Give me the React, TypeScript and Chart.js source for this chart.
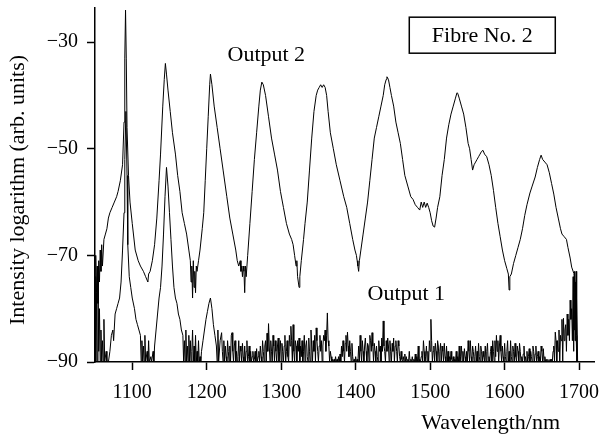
import React, { useEffect, useRef } from "react";
import { Chart, registerables } from "chart.js";

Chart.register(...registerables);

const xTickValues = [1100, 1200, 1300, 1400, 1500, 1600, 1700];
const yTickValues = [-90, -70, -50, -30];

// Output 2 spectrum: [wavelength nm, intensity log]
const output2: [number, number][] = [
  [1050, -74], [1051, -70], [1052, -77], [1053, -72], [1054, -79], [1055, -71], [1056, -75],
  [1057, -69], [1058, -73], [1059, -68], [1060, -72], [1062, -67], [1064, -66], [1066, -65],
  [1068, -63], [1070, -62], [1073, -61], [1076, -60], [1079, -59], [1081, -58], [1084, -56],
  [1087, -53], [1089, -45], [1090, -33], [1091, -24], [1092, -33], [1093, -46], [1095, -55],
  [1097, -60], [1100, -64], [1104, -69], [1108, -71], [1111, -72], [1115, -73], [1118, -74],
  [1121, -75], [1122, -73.5], [1124, -73], [1127, -71], [1130, -68], [1133, -63], [1136, -56],
  [1138, -51], [1141, -42], [1143, -37], [1144.5, -34], [1146, -36], [1148, -39], [1151, -43],
  [1154, -47], [1158, -51], [1161, -55], [1164, -58], [1167, -62], [1170, -64], [1173, -66],
  [1176, -69], [1178, -71], [1179, -75], [1180, -72], [1181, -78], [1182, -71], [1183, -76],
  [1184, -73], [1185, -77], [1186, -72], [1187, -73], [1189, -71], [1191, -69], [1194, -65],
  [1196, -62], [1198, -56], [1200, -50], [1202, -44], [1204, -38], [1205, -36], [1207, -38],
  [1210, -42], [1214, -46], [1218, -50], [1222, -54], [1227, -59], [1231, -63], [1235, -66],
  [1239, -69], [1241, -71], [1243, -72], [1245, -71], [1246, -73], [1247, -72], [1248, -74],
  [1249, -72], [1250, -73], [1251, -77], [1252, -72], [1253, -74], [1255, -70], [1258, -64],
  [1261, -58], [1264, -52], [1267, -47], [1270, -42], [1272, -39], [1274, -37.5], [1276, -38],
  [1279, -40], [1283, -44], [1287, -48], [1291, -51], [1295, -54], [1299, -58], [1303, -61],
  [1307, -64], [1311, -66], [1314, -67], [1316, -68], [1318, -70], [1320, -72], [1321, -71],
  [1322, -74], [1323, -75], [1324, -76], [1325, -74], [1327, -71], [1330, -67], [1332, -64],
  [1335, -60], [1338, -54], [1341, -48], [1344, -43], [1347, -40], [1349, -39], [1351, -38.5],
  [1353, -38], [1355, -38.5], [1357, -38], [1359, -38.5], [1361, -40], [1363, -43], [1366, -47],
  [1370, -50], [1374, -53], [1379, -56], [1384, -59], [1388, -61], [1392, -64], [1396, -67],
  [1399, -69], [1401, -70], [1402, -71], [1403, -72], [1404, -73], [1405, -71], [1407, -69],
  [1410, -66], [1413, -63], [1416, -60], [1419, -56], [1422, -52], [1425, -48], [1428, -46],
  [1431, -44], [1434, -42], [1437, -40], [1439, -38], [1441, -37], [1442, -36.5], [1444, -37],
  [1446, -38.5], [1448, -40], [1451, -42], [1454, -45], [1457, -47], [1460, -49], [1463, -52],
  [1466, -55], [1470, -57], [1474, -59], [1477, -59.5], [1480, -60.5], [1483, -61], [1486, -61.5],
  [1488, -60], [1490, -61], [1492, -60], [1494, -61], [1496, -60.2], [1498, -61], [1500, -62],
  [1502, -63.5], [1504, -64.5], [1506, -64.7], [1508, -63], [1510, -61], [1513, -59], [1516, -55],
  [1519, -52], [1522, -48], [1525, -45.5], [1528, -43.5], [1531, -42], [1534, -40.5], [1536, -39.5],
  [1537, -39.6], [1539, -40.5], [1542, -42], [1545, -43.5], [1548, -46], [1551, -49], [1553, -50],
  [1555, -52], [1557, -54], [1559, -53], [1561, -52.5], [1563, -52], [1565, -51.5], [1567, -51],
  [1569, -50.5], [1571, -50.3], [1573, -51], [1576, -51.5], [1579, -53], [1582, -55], [1585, -57.8],
  [1588, -61], [1591, -64], [1594, -66.5], [1597, -69], [1600, -71], [1603, -72.5], [1605, -73.5],
  [1606, -76.5], [1607, -74], [1609, -73.5], [1612, -71.5], [1615, -70], [1618, -68.5], [1621, -67],
  [1624, -65], [1627, -62.5], [1630, -60.5], [1634, -58.3], [1637, -57], [1641, -55.3], [1644, -53.5],
  [1647, -52], [1649, -51.2], [1651, -52], [1654, -52.5], [1657, -53], [1660, -54.5], [1663, -56.5],
  [1666, -58.5], [1669, -61], [1672, -63], [1675, -65], [1677, -66], [1680, -66.5], [1683, -67],
  [1685, -68.5], [1688, -70.5], [1690, -72.2], [1693, -73.4], [1695, -76], [1696, -85], [1697, -90],
];

// Output 1 spectrum, peak region: [wavelength nm, intensity log]
const output1Peaks: [number, number][] = [
  [1050, -74], [1051, -90], [1052, -77], [1053, -90], [1054, -72], [1055, -88], [1056, -80],
  [1057, -90], [1058, -84], [1059, -90], [1060, -86], [1061, -90], [1062, -82], [1063, -90],
  [1065, -88], [1066, -90], [1068, -90], [1070, -88], [1072, -85], [1074, -84], [1075, -86],
  [1077, -81], [1079, -80], [1081, -79], [1083, -78], [1085, -75], [1087, -69], [1089, -62],
  [1090, -52], [1091.5, -43], [1093, -55], [1094, -68], [1096, -74], [1098, -76], [1100, -78],
  [1103, -80], [1105, -82], [1107, -83], [1109, -84], [1111, -85], [1112, -90], [1113, -86],
  [1114, -90], [1115, -87], [1116, -90], [1117, -85], [1118, -90], [1120, -88], [1121, -90],
  [1122, -86], [1123, -90], [1125, -89], [1126, -90], [1128, -88], [1129, -90], [1130, -87],
  [1132, -84], [1134, -81], [1136, -78], [1138, -76], [1140, -72], [1142, -66], [1144, -59],
  [1146, -53.5], [1148, -57], [1150, -62], [1152, -67], [1154, -72], [1156, -76], [1158, -78],
  [1160, -79], [1162, -81], [1164, -82], [1166, -84], [1168, -85], [1169, -90], [1170, -86],
  [1171, -90], [1172, -84], [1173, -90], [1174, -87], [1175, -90], [1176, -85], [1177, -90],
  [1178, -86], [1179, -90], [1180, -88], [1181, -84], [1182, -90], [1183, -87], [1184, -90],
  [1185, -85], [1186, -90], [1187, -88], [1188, -90], [1189, -86], [1190, -90], [1191, -89],
  [1192, -90], [1193, -88], [1195, -86], [1197, -84], [1199, -82], [1201, -80.5], [1203, -79],
  [1205, -78], [1207, -80], [1209, -83], [1211, -85], [1213, -87], [1214, -90], [1215, -84],
  [1216, -90], [1218, -86],
];

// Output 1 noise floor, every 1 nm from 1220 nm to 1689 nm
const output1NoiseStart = 1220;
const output1NoiseStep = 1;
const output1Noise = [
  -84.5, -88, -90, -86, -90, -87, -89, -90, -86, -88,
  -90, -87, -90, -85, -84.5, -88, -90, -87, -86, -90,
  -88, -90, -89, -86, -90, -87, -88, -90, -86.5, -89,
  -90, -87, -90, -88, -86, -90, -89, -87, -90, -88,
  -90, -89, -88, -90, -89.5, -88, -90, -87.5, -90, -89,
  -88, -90, -87, -89, -90, -86, -88, -90, -87, -86,
  -90, -84.6, -88, -82.8, -87, -90, -86, -88, -90, -85,
  -87, -90, -86, -88, -90, -87, -85.5, -90, -88, -86,
  -90, -86.5, -88, -90, -87, -85, -90, -88, -86, -89,
  -90, -85, -87, -83.3, -86, -90, -83, -88, -90, -86,
  -87, -90, -86, -88, -85.5, -90, -87, -89, -86, -90,
  -88, -85, -90, -87, -86, -89, -90, -85.5, -88, -90,
  -84, -87, -90, -86, -88, -85, -90, -83.6, -86, -88,
  -90, -87, -85, -88, -86, -90, -87, -85, -86, -84,
  -88, -85, -80.8, -86, -87, -90, -88, -89, -90, -89.5,
  -90, -89.5, -90, -89, -90, -89.5, -90, -89, -90, -88.5,
  -90, -87, -89, -86, -88, -90, -86.5, -85, -88, -84.4,
  -87, -89, -86, -88, -90, -86.5, -89, -90, -89.5, -90,
  -89, -90, -89.5, -90, -87, -90, -85, -88, -90, -86,
  -88, -90, -87, -85.5, -88, -90, -86.5, -87, -90, -85,
  -86, -88, -84.5, -87, -90, -86.5, -88, -90, -87, -89,
  -90, -86, -88, -87, -90, -85.5, -88, -82.3, -87, -88,
  -90, -86, -88, -85.5, -87, -90, -86, -88, -90, -86.5,
  -88, -85.5, -90, -87, -86, -88, -90, -86, -87, -89,
  -90, -88, -89.5, -90, -89, -90, -88.5, -90, -89, -90,
  -89.5, -90, -88, -90, -89.5, -90, -89, -90, -89.5, -90,
  -88.5, -90, -89, -90, -87, -90, -89.5, -90, -89, -88,
  -90, -86, -88, -90, -89, -87, -90, -88, -90, -86,
  -88, -82, -86, -90, -88, -87, -90, -86.5, -88, -90,
  -86, -87, -90, -88, -86.5, -90, -87, -88, -90, -86.5,
  -89, -90, -87, -90, -88, -90, -89, -90, -88, -89.5,
  -90, -89, -90, -89.5, -90, -88, -90, -89, -90, -87,
  -90, -89, -87, -90, -88, -90, -87.5, -89, -90, -88,
  -90, -86, -88, -90, -86, -89, -90, -87, -88, -90,
  -89, -87, -90, -88, -90, -86.5, -89, -90, -87, -88,
  -90, -88, -89, -90, -87, -90, -88, -86.5, -90, -89,
  -90, -88, -87, -90, -86, -88, -90, -86, -89, -85,
  -88, -86, -90, -87, -85, -88, -90, -87, -89, -90,
  -86.5, -89, -90, -88, -86, -90, -88, -90, -86, -89,
  -90, -87, -88, -90, -86.5, -89, -90, -87, -88, -90,
  -86.5, -88, -90, -89, -90, -88.5, -87, -90, -89, -90,
  -88, -90, -89, -87.5, -90, -88, -89, -90, -87, -88,
  -90, -88.5, -87, -90, -89, -88, -90, -89, -90, -87,
  -88, -90, -87.5, -90, -89, -90, -89.5, -90, -89.5, -90,
  -90, -89.5, -90, -89.5, -90, -88, -87, -90, -84.4, -86,
  -90, -86, -88, -84, -90, -85, -86, -82, -90, -81.8,
  -86, -84, -83, -88, -81, -85, -82, -86, -78.4, -82,
];

// Output 1 long-wavelength edge
const output1Tail: [number, number][] = [
  [1690, -80], [1691, -86], [1692, -74], [1692.5, -88], [1693, -77], [1693.5, -84], [1694, -73],
  [1694.5, -86], [1695, -75], [1695.5, -82], [1696, -73], [1696.5, -85], [1697, -78], [1698, -90],
];

const annotations = [
  { text: "Output 2", x: 1280, y: -32.4 },
  { text: "Output 1", x: 1468, y: -77.3 },
];
const boxLabel = { text: "Fibre No. 2", x: 1570, y: -28.7 };
const xTitle = "Wavelength/nm";
const yTitle = "Intensity logarithm (arb. units)";

const FONT = '"Liberation Serif", "Times New Roman", serif';

const textPlugin = {
  id: "chartTexts",
  afterDraw(chart: any) {
    const { ctx, chartArea, scales } = chart;
    const xs = scales.x;
    const ys = scales.y;
    ctx.save();
    ctx.fillStyle = "#000";
    ctx.strokeStyle = "#000";
    ctx.font = `22px ${FONT}`;
    ctx.textAlign = "center";
    ctx.textBaseline = "middle";
    annotations.forEach((a) => {
      ctx.fillText(a.text, xs.getPixelForValue(a.x), ys.getPixelForValue(a.y));
    });
    const bx = xs.getPixelForValue(boxLabel.x);
    const by = ys.getPixelForValue(boxLabel.y);
    const bw = 146;
    const bh = 36;
    ctx.lineWidth = 1.5;
    ctx.strokeRect(bx - bw / 2, by - bh / 2, bw, bh);
    ctx.fillText(boxLabel.text, bx, by + 1);

    ctx.textAlign = "right";
    ctx.fillText(xTitle, chartArea.right - 34, chartArea.bottom + 61);

    ctx.translate(18, (chartArea.top + chartArea.bottom) / 2 + 5);
    ctx.rotate(-Math.PI / 2);
    ctx.textAlign = "center";
    ctx.fillText(yTitle, 0, 0);
    ctx.restore();
  },
};

const zeroPadding = (scale: any) => {
  scale.paddingTop = 0;
  scale.paddingBottom = 0;
  scale.paddingLeft = 0;
  scale.paddingRight = 0;
};

export default function App() {
  const canvasRef = useRef<HTMLCanvasElement | null>(null);

  useEffect(() => {
    const canvas = canvasRef.current;
    if (!canvas) return;
    const out1 = [
      ...output1Peaks.map(([x, y]) => ({ x, y })),
      ...output1Noise.map((y, i) => ({ x: output1NoiseStart + i * output1NoiseStep, y })),
      ...output1Tail.map(([x, y]) => ({ x, y })),
    ];
    const out2 = output2.map(([x, y]) => ({ x, y }));

    const tickFont = { family: FONT, size: 20 };
    const chart = new Chart(canvas, {
      type: "line",
      data: {
        datasets: [
          {
            label: "Output 1",
            data: out1,
            borderColor: "#000",
            borderWidth: 1,
            pointRadius: 0,
            tension: 0,
            fill: false,
          },
          {
            label: "Output 2",
            data: out2,
            borderColor: "#000",
            borderWidth: 1,
            pointRadius: 0,
            tension: 0,
            fill: false,
          },
        ],
      },
      options: {
        responsive: false,
        animation: false,
        devicePixelRatio: 1,
        parsing: false as any,
        layout: { padding: { left: 0, top: 8, right: 5, bottom: 0 } },
        plugins: {
          legend: { display: false },
          tooltip: { enabled: false },
          title: { display: false },
        },
        scales: {
          x: {
            type: "linear",
            min: 1050,
            max: 1720,
            afterBuildTicks: (scale: any) => {
              scale.ticks = xTickValues.map((v) => ({ value: v }));
            },
            afterFit: (scale: any) => {
              scale.height = 75;
              zeroPadding(scale);
            },
            ticks: {
              font: tickFont,
              color: "#000",
              padding: 11,
              maxRotation: 0,
              autoSkip: false,
              callback: (v: any) => String(v),
            },
            grid: {
              drawOnChartArea: false,
              drawTicks: true,
              tickLength: 8,
              tickWidth: 1.5,
              tickColor: "#000",
            },
            border: { display: true, color: "#000", width: 1.5 },
          },
          y: {
            type: "linear",
            min: -90,
            max: -23.6,
            afterBuildTicks: (scale: any) => {
              scale.ticks = yTickValues.map((v) => ({ value: v }));
            },
            afterFit: (scale: any) => {
              scale.width = 95;
              zeroPadding(scale);
            },
            ticks: {
              font: tickFont,
              color: "#000",
              padding: 9,
              autoSkip: false,
              callback: (v: any) => (v < 0 ? "\u2212" + Math.abs(v) : String(v)),
            },
            grid: {
              drawOnChartArea: false,
              drawTicks: true,
              tickLength: 8,
              tickWidth: 1.5,
              tickColor: "#000",
            },
            border: { display: true, color: "#000", width: 1.5 },
          },
        },
      },
      plugins: [textPlugin],
    });
    return () => chart.destroy();
  }, []);

  return (
    <div style={{ position: "fixed", left: 0, top: 0, width: 599, height: 437, background: "#fff" }}>
      <canvas ref={canvasRef} width={599} height={437} style={{ display: "block" }} />
    </div>
  );
}
